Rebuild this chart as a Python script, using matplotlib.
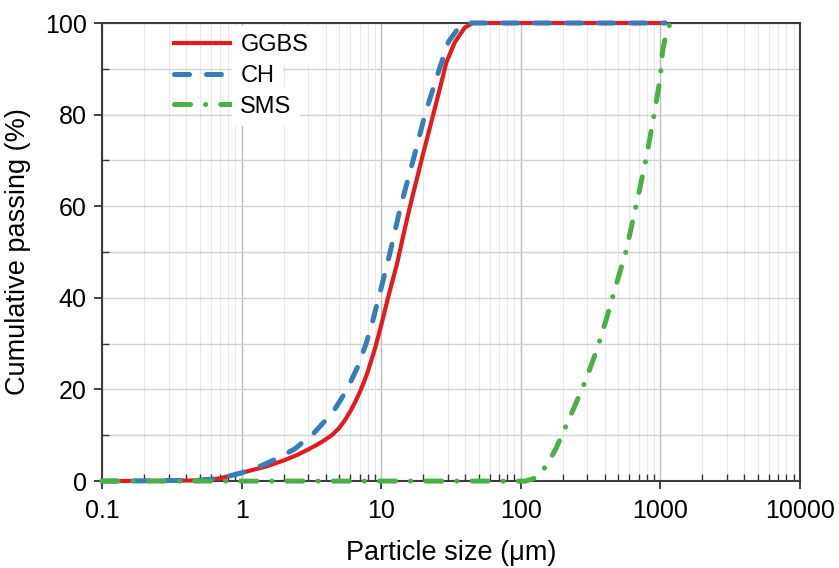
import numpy as np
import matplotlib
matplotlib.use('Agg')
import matplotlib.pyplot as plt
from matplotlib.ticker import LogLocator, MultipleLocator

plt.rcParams['font.family'] = ['Liberation Sans', 'DejaVu Sans']

# particle size (um) and cumulative passing (%)
ggbs_size = [0.1, 0.2, 0.5, 0.7, 1.0, 1.5, 2.0, 2.5, 3.0, 3.5, 4.0, 4.5, 5.0, 5.5, 6.0, 6.5, 7.0, 7.5,
             8.0, 9.0, 10.0, 11.3, 13.0, 14.5, 16.1, 19.5, 23.6, 27.0, 29.3, 33.7, 39.7, 45.4, 1080]
ggbs_pass = [0.0, 0.05, 0.15, 0.6, 1.8, 3.2, 4.5, 5.7, 6.9, 8.0, 9.1, 10.2, 11.6, 13.3, 15.2, 17.2, 19.3, 21.5,
             23.8, 28.8, 34.0, 40.5, 47.5, 54.0, 60.0, 70.2, 80.0, 87.0, 91.4, 95.8, 99.0, 100, 100]

ch_size = [0.1, 0.2, 0.5, 0.7, 1.0, 1.3, 1.76, 2.4, 3.3, 4.5, 5.7, 6.8, 7.8, 8.7, 9.6,
           11.5, 13.8, 17.0, 20.6, 24.9, 30.2, 34.6, 41.0, 1080]
ch_pass = [0.0, 0.05, 0.2, 0.6, 1.8, 3.0, 4.8, 7.0, 10.5, 15.0, 20.0, 25.0, 30.0, 35.0, 40.0,
           49.5, 60.0, 70.2, 80.0, 88.0, 95.8, 98.3, 100, 100]

sms_size = [0.1, 108, 128, 143, 160, 180, 199, 248, 292, 354, 407, 480, 566, 669, 787, 903, 999,
            1038, 1100, 1158, 1175]
sms_pass = [0.0, 0.0, 0.7, 2.2, 4.4, 7.3, 10.3, 16.9, 22.0, 29.0, 35.0, 42.6, 50.0, 60.0, 70.0, 80.0, 88.0,
            94.0, 97.5, 99.4, 100]

x_ticks = [0.1, 1, 10, 100, 1000, 10000]
x_labels = ['0.1', '1', '10', '100', '1000', '10000']

fig = plt.figure(figsize=(8.39, 5.68), dpi=100)
ax = fig.add_axes([0.1216, 0.153, 0.8318, 0.8065])

ax.plot(ggbs_size, ggbs_pass, color='#e41a1c', lw=3, label='GGBS', zorder=3, clip_on=False)
ax.plot(ch_size, ch_pass, color='#377eb8', lw=3.6, dashes=(3, 3.4), dash_capstyle='round',
        label='CH', zorder=4, clip_on=False)
ax.plot(sms_size, sms_pass, color='#4daf4a', lw=3.6, dashes=(3.2, 3, 0.05, 3), dash_capstyle='round',
        label='SMS', zorder=4, clip_on=False)

ax.set_xscale('log')
ax.set_xlim(0.1, 10000)
ax.set_ylim(0, 100)
ax.set_xticks(x_ticks)
ax.set_xticklabels(x_labels)
ax.xaxis.set_minor_locator(LogLocator(base=10, subs=np.arange(2, 10), numticks=20))
ax.xaxis.set_minor_formatter(plt.NullFormatter())
ax.yaxis.set_major_locator(MultipleLocator(20))
ax.yaxis.set_minor_locator(MultipleLocator(10))

ax.grid(which='major', axis='x', color='#bcbcbc', lw=1)
ax.grid(which='minor', axis='x', color='#e8e8e8', lw=0.8)
ax.grid(which='both', axis='y', color='#d2d2d2', lw=1)
ax.set_axisbelow(True)

ax.tick_params(which='major', direction='out', length=6, width=1.3, color='#333333', labelsize=18)
ax.tick_params(which='minor', direction='in', length=5, width=1, color='#333333')
ax.tick_params(axis='x', which='major', pad=7)
ax.tick_params(axis='y', which='major', pad=5)
for s in ax.spines.values():
    s.set_color('#3c3c3c')
    s.set_linewidth(1.5)

ax.set_xlabel('Particle size (\u03bcm)', fontsize=19.5, labelpad=12)
ax.set_ylabel('Cumulative passing (%)', fontsize=19.5, labelpad=10)

leg = ax.legend(loc='upper left', bbox_to_anchor=(0.09, 0.996), borderaxespad=0, fontsize=17,
                frameon=False, handlelength=2.46, handletextpad=0.34, labelspacing=0.37, borderpad=0.4)
for t in leg.get_texts():
    t.set_bbox(dict(facecolor='white', edgecolor='none', pad=6))

fig.savefig('out.png', dpi=100)
